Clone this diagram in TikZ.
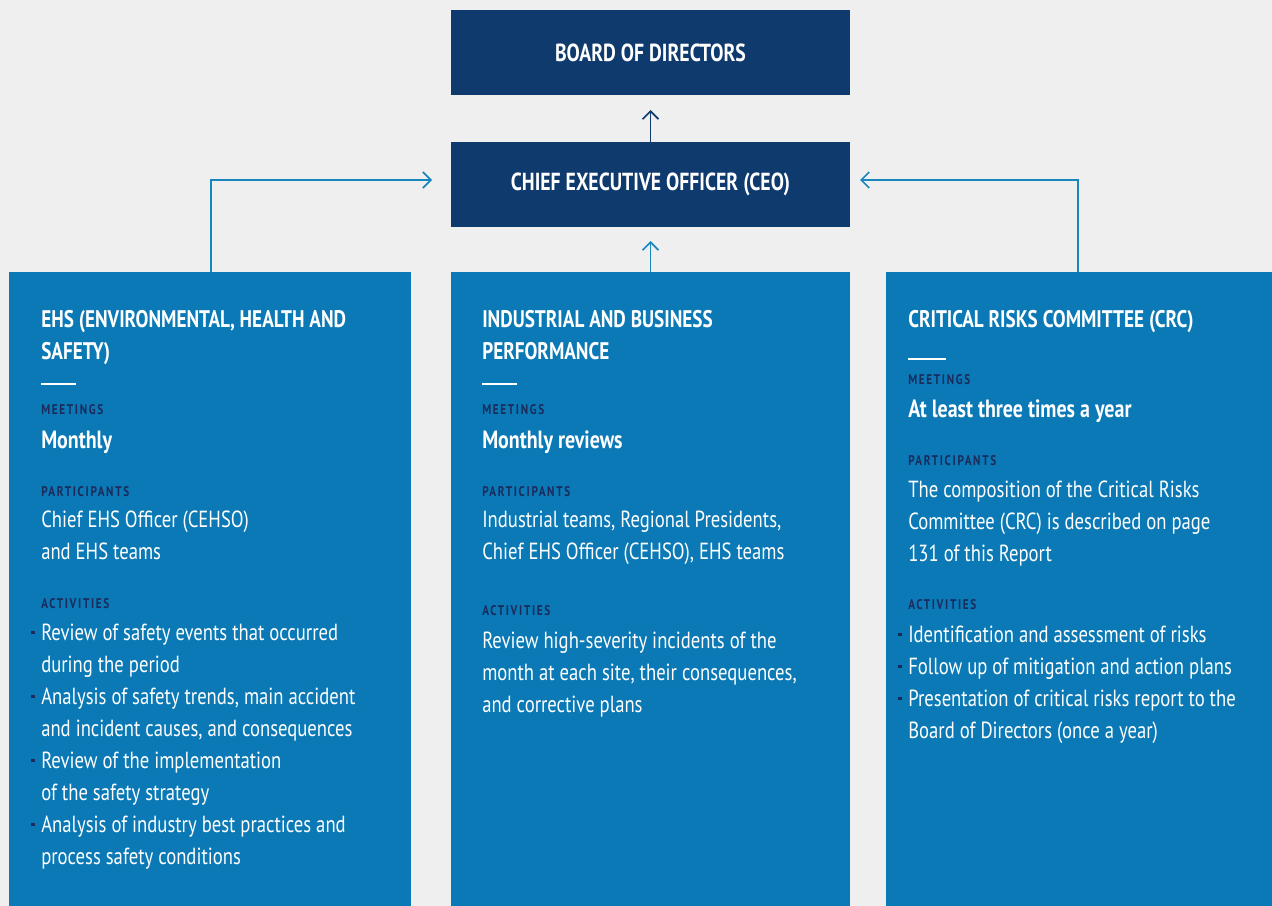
\documentclass[tikz,border=0pt]{standalone}
\usepackage{fontspec}
\setmainfont{PT Sans}[FakeStretch=0.8]
\usetikzlibrary{arrows.meta}
\definecolor{bg}{HTML}{EFEFEF}
\definecolor{navy}{HTML}{0F3A6E}
\definecolor{boxblue}{HTML}{0A79B5}
\definecolor{lbl}{HTML}{1B2B5C}
\definecolor{arrblue}{HTML}{1A86BE}
\newcommand\bul{\llap{\textcolor{lbl}{\rule[0.3em]{2.4pt}{2.4pt}}\hspace{5pt}}}
\tikzset{
  navybox/.style={fill=navy, draw=none, minimum width=299.25pt, minimum height=63.75pt, inner sep=0,
    text=white, font=\fontsize{18.5}{22}\selectfont\bfseries},
  bluebox/.style={fill=boxblue, draw=none, minimum height=475.5pt, inner sep=0},
  head/.style={anchor=north west, inner sep=0, align=left, text=white, font=\fontsize{18}{24}\selectfont\bfseries},
  lab/.style={anchor=north west, inner sep=0, align=left, text=lbl, font=\fontsize{10.5}{12}\selectfont\bfseries\addfontfeature{LetterSpace=12}},
  body/.style={anchor=north west, inner sep=0, align=left, text=white, font=\fontsize{17.5}{24}\selectfont},
  bodyb/.style={anchor=north west, inner sep=0, align=left, text=white, font=\fontsize{18.7}{24}\selectfont\bfseries},
  rulel/.style={white, line width=1.6pt},
  conn/.style={arrblue, line width=1.3pt, -{Straight Barb[length=6pt,width=12pt,line width=1.3pt]}},
  connd/.style={navy, line width=1.3pt, -{Straight Barb[length=6pt,width=12pt,line width=1.3pt]}},
}
\begin{document}
\begin{tikzpicture}[x=0.75pt,y=-0.75pt]
\fill[bg] (0,0) rectangle (1272,906);
\useasboundingbox (0,0) rectangle (1272,906);
% top boxes
\node[navybox] (board) at (650.5,52.5) {BOARD OF DIRECTORS};
\node[navybox] (ceo) at (650.5,184.5) {CHIEF EXECUTIVE OFFICER (CEO)};
% blue boxes
\node[bluebox, minimum width=301.5pt] (ehs) at (210,589) {};
\node[bluebox, minimum width=299.25pt] (ibp) at (650.5,589) {};
\node[bluebox, minimum width=289.5pt] (crc) at (1079,589) {};
% connectors
\coordinate (ceoL) at (432,180);
\coordinate (ceoR) at (860,180);
\coordinate (ceoTop) at (650.5,110);
\coordinate (ceoBot) at (650.5,241);
\draw[connd] (ceo.north) -- (ceoTop);
\draw[conn] (ibp.north) -- (ceoBot);
\draw[conn] (ehs.north -| 211,0) |- (ceoL);
\draw[conn] (crc.north -| 1078,0) |- (ceoR);
% EHS
\node[head] (ehsh) at (41,310) {EHS (ENVIRONMENTAL, HEALTH AND\\SAFETY)};
\draw[rulel] (41,384) -- (76,384);
\node[lab] (ehsm) at (41,404) {MEETINGS};
\node[bodyb] (ehsmv) at (41,431) {Monthly};
\node[lab] (ehsp) at (41,486) {PARTICIPANTS};
\node[body] (ehspv) at (41,511) {Chief EHS Officer (CEHSO)\\and EHS teams};
\node[lab] (ehsa) at (41,598) {ACTIVITIES};
\node[body] (ehsav) at (41,624) {\bul Review of safety events that occurred\\during the period\\\bul Analysis of safety trends, main accident\\and incident causes, and consequences\\\bul Review of the implementation\\of the safety strategy\\\bul Analysis of industry best practices and\\process safety conditions};
% IBP
\node[head] (ibph) at (482,310) {INDUSTRIAL AND BUSINESS\\PERFORMANCE};
\draw[rulel] (482,384) -- (517,384);
\node[lab] (ibpm) at (482,404) {MEETINGS};
\node[bodyb] (ibpmv) at (482,431) {Monthly reviews};
\node[lab] (ibpp) at (482,486) {PARTICIPANTS};
\node[body] (ibppv) at (482,511) {Industrial teams, Regional Presidents,\\Chief EHS Officer (CEHSO), EHS teams};
\node[lab] (ibpa) at (482,605) {ACTIVITIES};
\node[body] (ibpav) at (482,632) {Review high-severity incidents of the\\month at each site, their consequences,\\and corrective plans};
% CRC
\node[head] (crch) at (908,310) {CRITICAL RISKS COMMITTEE (CRC)};
\draw[rulel] (908,359) -- (946,359);
\node[lab] (crcm) at (908,374) {MEETINGS};
\node[bodyb] (crcmv) at (908,400) {At least three times a year};
\node[lab] (crcp) at (908,455) {PARTICIPANTS};
\node[body] (crcpv) at (908,481) {The composition of the Critical Risks\\Committee (CRC) is described on page\\131 of this Report};
\node[lab] (crca) at (908,599) {ACTIVITIES};
\node[body] (crcav) at (908,626) {\bul Identification and assessment of risks\\\bul Follow up of mitigation and action plans\\\bul Presentation of critical risks report to the\\Board of Directors (once a year)};
\end{tikzpicture}
\end{document}
